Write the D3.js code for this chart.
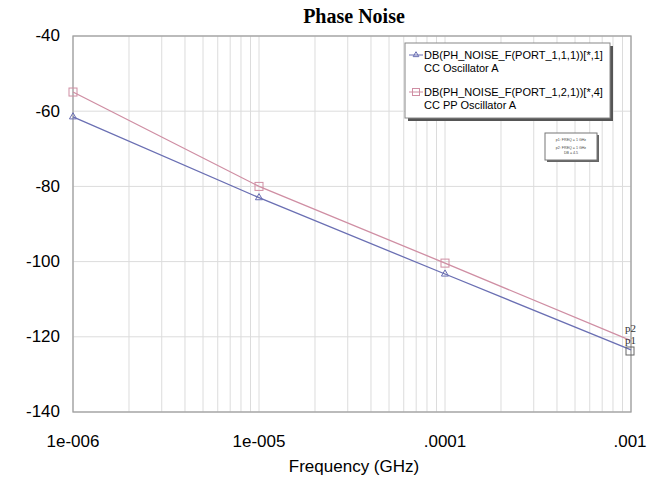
<!DOCTYPE html>
<html><head><meta charset="utf-8">
<script src="https://cdn.jsdelivr.net/npm/d3@7"></script>
<style>body{margin:0;background:#fff;} svg{display:block;}</style>
</head><body>
<script>
const freqs = [1e-6, 1e-5, 1e-4, 1e-3];
const series1 = [-61.5, -83, -103.3, -123.5];   // CC Oscillator A
const series2 = [-54.9, -80, -100.4, -121];     // CC PP Oscillator A
const yTicks = [-140, -120, -100, -80, -60, -40];
const xTickVals = [1e-6, 1e-5, 1e-4, 1e-3];
const xTickLabels = ["1e-006", "1e-005", ".0001", ".001"];
const legendNames = ["DB(PH_NOISE_F(PORT_1,1,1))[*,1]", "DB(PH_NOISE_F(PORT_1,2,1))[*,4]"];
const legendSub = ["CC Oscillator A", "CC PP Oscillator A"];

const W = 661, H = 480;
const m = {l: 73, r: 30, t: 36, b: 68};
const svg = d3.select("body").append("svg").attr("width", W).attr("height", H);
const x = d3.scaleLog().domain([1e-6, 1e-3]).range([m.l, W - m.r]);
const y = d3.scaleLinear().domain([-140, -40]).range([H - m.b, m.t]);
const sans = "Liberation Sans, Arial, sans-serif";

// minor grid
const minor = [];
for (let e = -6; e < -3; e++) for (let k = 2; k <= 9; k++) minor.push(k * Math.pow(10, e));
svg.append("g").selectAll("line").data(minor.concat(xTickVals)).join("line")
  .attr("x1", d => x(d)).attr("x2", d => x(d)).attr("y1", y(-140)).attr("y2", y(-40))
  .attr("stroke", "#dcdcdc").attr("stroke-width", 1);
svg.append("g").selectAll("line").data(yTicks).join("line")
  .attr("x1", x(1e-6)).attr("x2", x(1e-3)).attr("y1", d => y(d)).attr("y2", d => y(d))
  .attr("stroke", "#dcdcdc").attr("stroke-width", 1);
// frame
svg.append("rect").attr("x", x(1e-6)).attr("y", y(-40)).attr("width", x(1e-3) - x(1e-6))
  .attr("height", y(-140) - y(-40)).attr("fill", "none").attr("stroke", "#a0a0a0").attr("stroke-width", 1.3);

// axes labels
svg.append("g").selectAll("text").data(yTicks).join("text")
  .attr("x", 60).attr("y", d => y(d) + 1).attr("text-anchor", "end").attr("dominant-baseline", "middle")
  .attr("font-family", sans).attr("font-size", 17).text(d => d);
svg.append("g").selectAll("text").data(xTickVals).join("text")
  .attr("x", (d, i) => x(d) + (i === 3 ? -1 : 0)).attr("y", 447).attr("text-anchor", "middle")
  .attr("font-family", sans).attr("font-size", 17).text((d, i) => xTickLabels[i]);
svg.append("text").attr("x", 354).attr("y", 472).attr("text-anchor", "middle")
  .attr("font-family", sans).attr("font-size", 17).text("Frequency (GHz)");
svg.append("text").attr("x", 354).attr("y", 23).attr("text-anchor", "middle")
  .attr("font-family", "Liberation Serif, Times New Roman, serif").attr("font-weight", "bold")
  .attr("font-size", 20).text("Phase Noise");

const c1 = "#6a6fb3", c2 = "#cf8ea3";
const line = d3.line().x((d, i) => x(freqs[i])).y(d => y(d));
svg.append("path").datum(series2).attr("d", line).attr("fill", "none").attr("stroke", c2).attr("stroke-width", 1.3);
svg.append("path").datum(series1).attr("d", line).attr("fill", "none").attr("stroke", c1).attr("stroke-width", 1.3);

const tri = d3.symbol().type(d3.symbolTriangle).size(22);
svg.append("g").selectAll("path").data(series1.slice(0, 3)).join("path")
  .attr("d", tri).attr("transform", (d, i) => `translate(${x(freqs[i])},${y(d)})`)
  .attr("fill", "none").attr("stroke", c1).attr("stroke-width", 1);
svg.append("g").selectAll("rect").data(series2.slice(0, 3)).join("rect")
  .attr("x", (d, i) => x(freqs[i]) - 4).attr("y", d => y(d) - 4).attr("width", 8).attr("height", 8)
  .attr("fill", "none").attr("stroke", c2).attr("stroke-width", 1);

// marker labels p1/p2 at right end
svg.append("text").attr("x", 625).attr("y", 332).attr("font-family", "Liberation Serif, serif")
  .attr("font-size", 11).attr("fill", "#333").text("p2");
svg.append("text").attr("x", 625).attr("y", 344).attr("font-family", "Liberation Serif, serif")
  .attr("font-size", 11).attr("fill", "#333").text("p1");
svg.append("rect").attr("x", 626).attr("y", 347).attr("width", 8).attr("height", 8)
  .attr("fill", "none").attr("stroke", "#666").attr("stroke-width", 1);

// legend
const lg = svg.append("g");
lg.append("rect").attr("x", 408).attr("y", 46).attr("width", 205).attr("height", 75).attr("fill", "#555");
lg.append("rect").attr("x", 405).attr("y", 43).attr("width", 205).attr("height", 75)
  .attr("fill", "#fff").attr("stroke", "#888").attr("stroke-width", 1);
[c1, c2].forEach((c, i) => {
  const yy = 59 + i * 37;
  lg.append("line").attr("x1", 409).attr("x2", 423).attr("y1", yy - 4).attr("y2", yy - 4).attr("stroke", c);
  if (i === 0) lg.append("path").attr("d", d3.symbol().type(d3.symbolTriangle).size(14)())
    .attr("transform", `translate(416,${yy - 4})`).attr("fill", "none").attr("stroke", c);
  else lg.append("rect").attr("x", 412.5).attr("y", yy - 7.5).attr("width", 7).attr("height", 7)
    .attr("fill", "none").attr("stroke", c);
  lg.append("text").attr("x", 424).attr("y", yy).attr("font-family", sans).attr("font-size", 11).text(legendNames[i]);
  lg.append("text").attr("x", 424).attr("y", yy + 12.5).attr("font-family", sans).attr("font-size", 11).text(legendSub[i]);
});

// small marker box
const mb = svg.append("g");
mb.append("rect").attr("x", 547).attr("y", 135).attr("width", 52).attr("height", 27).attr("fill", "#666");
mb.append("rect").attr("x", 545).attr("y", 133).attr("width", 52).attr("height", 27)
  .attr("fill", "#fff").attr("stroke", "#777").attr("stroke-width", 1);
[["p1: FREQ = 1 GHz", 141], ["p2: FREQ = 1 GHz", 149], ["DB = 4.5", 154]].forEach(([t, yy]) => {
  mb.append("text").attr("x", 571).attr("y", yy).attr("text-anchor", "middle").attr("font-family", sans)
    .attr("font-size", 3.6).attr("fill", "#444").text(t);
});
</script>
</body></html>
